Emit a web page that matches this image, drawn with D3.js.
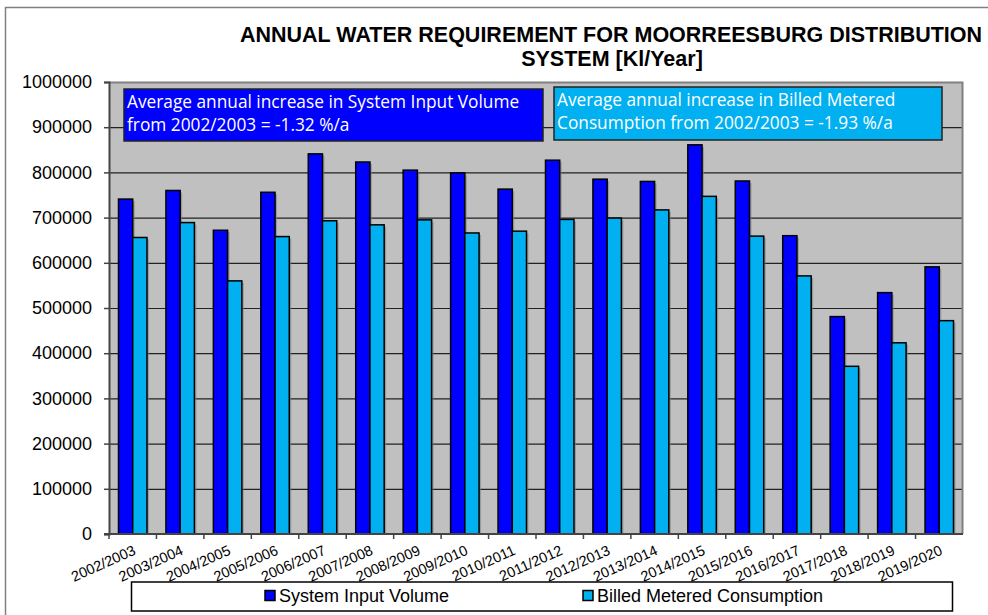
<!DOCTYPE html>
<html>
<head>
<meta charset="utf-8">
<script src="https://cdn.jsdelivr.net/npm/d3@7"></script>
<style>
  body { margin: 0; background: #fff; }
  svg { display: block; }
</style>
</head>
<body>
<div id="chart"></div>
<script>
// chart data
var years = ["2002/2003", "2003/2004", "2004/2005", "2005/2006", "2006/2007", "2007/2008",
  "2008/2009", "2009/2010", "2010/2011", "2011/2012", "2012/2013", "2013/2014",
  "2014/2015", "2015/2016", "2016/2017", "2017/2018", "2018/2019", "2019/2020"];
var systemInput = [741000, 760000, 672000, 756000, 841000, 823000, 805000, 799000, 763000,
  827000, 785000, 780000, 861000, 781000, 660000, 481000, 534000, 591000];
var billedMetered = [656000, 689000, 560000, 658000, 693000, 684000, 695000, 666000, 670000,
  696000, 699000, 717000, 747000, 659000, 571000, 371000, 423000, 472000];
var yTicks = [0, 100000, 200000, 300000, 400000, 500000, 600000, 700000, 800000, 900000, 1000000];
var seriesNames = ["System Input Volume", "Billed Metered Consumption"];
var seriesColors = ["#0000ff", "#00b0f0"];
var notes = [
  ["Average annual increase in System Input Volume", "from 2002/2003 = -1.32 %/a"],
  ["Average annual increase in Billed Metered", "Consumption from 2002/2003 = -1.93 %/a"]
];

var W = 988, H = 615;
var margin = { top: 82, right: 25, bottom: 81, left: 109 };
var width = W - margin.left - margin.right;
var height = H - margin.top - margin.bottom;
var sans = "'Liberation Sans', Arial, sans-serif";

var svg = d3.select("#chart").append("svg")
  .attr("width", W)
  .attr("height", H);

// outer chart frame
svg.append("rect")
  .attr("x", 5.5).attr("y", 7.5)
  .attr("width", W + 10).attr("height", H + 10)
  .attr("fill", "none").attr("stroke", "#808080").attr("stroke-width", 1.5);

// title
var title = svg.append("text")
  .attr("text-anchor", "middle")
  .attr("font-family", sans)
  .attr("font-weight", "bold")
  .attr("font-size", "21.5px")
  .attr("fill", "#000");
title.append("tspan").attr("x", 611).attr("y", 42)
  .text("ANNUAL WATER REQUIREMENT FOR MOORREESBURG DISTRIBUTION");
title.append("tspan").attr("x", 612).attr("y", 66)
  .text("SYSTEM [Kl/Year]");

var g = svg.append("g")
  .attr("transform", "translate(" + margin.left + "," + margin.top + ")");

var x0 = d3.scaleBand().domain(years).range([0, width]).paddingInner(0).paddingOuter(0);
var x1 = d3.scaleBand().domain(seriesNames).range([x0.bandwidth() * 0.2, x0.bandwidth() * 0.8]);
var y = d3.scaleLinear().domain([0, 1000000]).range([height, 0]);

// plot background
g.append("rect")
  .attr("width", width).attr("height", height)
  .attr("fill", "#c0c0c0");

// gridlines
g.selectAll(".grid").data(yTicks.slice(1)).enter().append("line")
  .attr("x1", 0).attr("x2", width)
  .attr("y1", d => y(d) + 0.5).attr("y2", d => y(d) + 0.5)
  .attr("stroke", "#222").attr("stroke-width", 1.2);

// plot border (right and top)
g.append("path")
  .attr("d", "M0,0.5H" + (width - 0.5) + "V" + height)
  .attr("fill", "none").attr("stroke", "#808080").attr("stroke-width", 2);

// bars
var seriesData = [systemInput, billedMetered];
var groups = g.selectAll(".year").data(years).enter().append("g")
  .attr("transform", d => "translate(" + x0(d) + ",0)");

seriesNames.forEach(function (name, si) {
  // shadow
  groups.append("rect")
    .attr("x", x1(name) + 2)
    .attr("y", (d, i) => y(seriesData[si][i]) + 2)
    .attr("width", x1.bandwidth())
    .attr("height", (d, i) => height - y(seriesData[si][i]) - 2)
    .attr("fill", "#808080").attr("opacity", 0.6);
  groups.append("rect")
    .attr("x", x1(name))
    .attr("y", (d, i) => y(seriesData[si][i]))
    .attr("width", x1.bandwidth())
    .attr("height", (d, i) => height - y(seriesData[si][i]))
    .attr("fill", seriesColors[si])
    .attr("stroke", "#000").attr("stroke-width", 1.5);
});

// y axis
var yAxis = g.append("g")
  .call(d3.axisLeft(y).tickValues(yTicks).tickSize(5).tickPadding(12).tickFormat(d3.format("d")));
yAxis.select(".domain").attr("stroke", "#444").attr("stroke-width", 2);
yAxis.selectAll(".tick line").attr("stroke", "#444").attr("stroke-width", 1.5);
yAxis.selectAll("text")
  .attr("font-family", sans)
  .attr("font-size", "18px").attr("fill", "#000");

// x axis: ticks on category boundaries
var xAxis = g.append("g").attr("transform", "translate(0," + height + ")");
xAxis.append("line")
  .attr("x1", -5).attr("x2", width)
  .attr("stroke", "#444").attr("stroke-width", 2);
xAxis.selectAll(".xt").data(years).enter().append("line")
  .attr("x1", d => x0(d)).attr("x2", d => x0(d))
  .attr("y1", 0).attr("y2", 5)
  .attr("stroke", "#444").attr("stroke-width", 1.5);
xAxis.selectAll(".xl").data(years).enter().append("text")
  .attr("transform", d => "translate(" + (x0(d) + x0.bandwidth() / 2 + 4) + ",20) rotate(-24)")
  .attr("text-anchor", "end")
  .attr("font-family", sans)
  .attr("font-size", "14.5px")
  .attr("fill", "#000")
  .text(d => d);

// annotation boxes
var noteBoxes = [
  { x: 124, y: 89, w: 419, h: 52, fill: seriesColors[0] },
  { x: 554, y: 87, w: 388, h: 53, fill: seriesColors[1] }
];
noteBoxes.forEach(function (b, i) {
  svg.append("rect")
    .attr("x", b.x).attr("y", b.y).attr("width", b.w).attr("height", b.h)
    .attr("fill", b.fill).attr("stroke", "#222").attr("stroke-width", 1.5);
  var t = svg.append("text")
    .attr("font-family", "'Open Sans', 'Noto Sans', sans-serif")
    .attr("font-size", "17.3px")
    .attr("fill", "#fff");
  notes[i].forEach(function (line, li) {
    t.append("tspan").attr("x", b.x + 3).attr("y", b.y + 19 + li * 23).text(line);
  });
});

// legend
var legend = svg.append("g");
legend.append("rect")
  .attr("x", 131.5).attr("y", 582).attr("width", 821).attr("height", 29)
  .attr("fill", "#fff").attr("stroke", "#000").attr("stroke-width", 1.5);
var legendPos = [265, 583];
seriesNames.forEach(function (name, i) {
  legend.append("rect")
    .attr("x", legendPos[i]).attr("y", 590.5).attr("width", 10).attr("height", 10)
    .attr("fill", seriesColors[i]).attr("stroke", "#000").attr("stroke-width", 1.5);
  legend.append("text")
    .attr("x", legendPos[i] + 14).attr("y", 602)
    .attr("font-family", sans)
    .attr("font-size", "18px").attr("fill", "#000")
    .text(name);
});
</script>
</body>
</html>
